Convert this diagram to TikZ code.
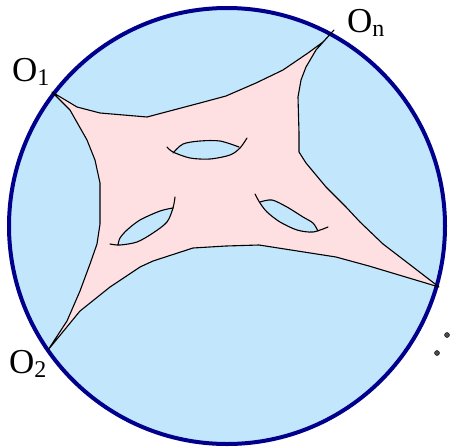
\documentclass[tikz,border=0pt]{standalone}
\usepackage{fontspec}
\setmainfont{Liberation Serif}
\usetikzlibrary{positioning}
\definecolor{diskblue}{RGB}{194,230,252}
\definecolor{rimblue}{RGB}{0,0,140}
\definecolor{sheetpink}{RGB}{255,224,226}
\newcommand{\rimlab}[1]{O\raisebox{-4.5pt}{\fontsize{24}{24}\selectfont #1}}

\begin{document}
\begin{tikzpicture}[
  x=1pt, y=-1pt,
  disk/.style={fill=diskblue, draw=rimblue, line width=4pt},
  sheet/.style={fill=sheetpink, draw=black, line width=1.1pt, line join=round},
  hole/.style={fill=diskblue},
  holeedge/.style={draw=black, line width=1.1pt, line cap=round},
  rimlabel/.style={inner sep=0pt, anchor=base west, font=\fontsize{35}{40}\selectfont},
  dotmark/.style={circle, fill=black!70, draw=black, inner sep=0pt, minimum size=5pt}
]
  \useasboundingbox (0,0) rectangle (452,447);
  \draw[disk] (227,226) circle (218pt);

  % ends of the sheet on the rim
  \coordinate (o1) at (52,92);
  \coordinate (on) at (334,30);
  \coordinate (or) at (439,287);
  \coordinate (o2) at (48,350);

  \draw[sheet] (o1) -- (77,107) -- (100,113) -- (147,117) -- (200,103) -- (226,96)
    -- (256,83) -- (283,70) -- (308,53) -- (323,42) -- (on)
    -- (316,50) -- (306,67) -- (301,80) -- (298,97) -- (299,133) -- (299,152)
    -- (306,163) -- (326,187) -- (346,207) -- (360,222) -- (383,244) -- (413,267) -- (or)
    -- (369,266) -- (336,257) -- (259,245) -- (226,246) -- (193,248) -- (153,261)
    -- (140,267) -- (110,287) -- (80,311) -- (o2)
    -- (67,321) -- (80,291) -- (90,264) -- (97,244) -- (100,224) -- (100,183)
    -- (95,160) -- (87,140) -- (70,110) -- cycle;

  % holes
  \fill[hole] plot[smooth] coordinates {(173,153) (183,144) (200,141) (220,141) (239,147)}
    -- plot[smooth] coordinates {(239,147) (230,155) (210,159) (190,158) (173,153)} -- cycle;
  \draw[holeedge] plot[smooth] coordinates {(173,153) (183,144) (200,141) (220,141) (239,147)};
  \draw[holeedge] plot[smooth] coordinates {(167,147) (173,152) (190,158) (210,159) (230,155) (240,148) (247,138)};

  \fill[hole] plot[smooth] coordinates {(173,208) (160,211) (140,220) (127,230) (120,238) (119,245)}
    -- plot[smooth] coordinates {(119,245) (137,242) (153,233) (167,222) (173,208)} -- cycle;
  \draw[holeedge] plot[smooth] coordinates {(173,208) (160,211) (140,220) (127,230) (120,238) (118,245)};
  \draw[holeedge] plot[smooth] coordinates {(110,244) (120,245) (137,242) (153,233) (167,222) (173,208) (175,197)};

  \fill[hole] plot[smooth] coordinates {(260,202) (272,200) (287,207) (303,217) (313,223) (318,231)}
    -- plot[smooth] coordinates {(318,231) (313,232) (297,230) (280,222) (267,212) (260,202)} -- cycle;
  \draw[holeedge] plot[smooth] coordinates {(260,202) (272,200) (287,207) (303,217) (313,223) (318,231)};
  \draw[holeedge] plot[smooth] coordinates {(255,194) (260,203) (267,212) (280,222) (297,230) (313,232) (328,227)};

  % labels
  \node[rimlabel] (lab1) at (12,81) {\rimlab{1}};
  \node[rimlabel] (labn) at (347,32) {\rimlab{n}};
  \node[rimlabel] (lab2) at (9,373) {\rimlab{2}};

  \node[dotmark] (dota) at (447,335) {};
  \node[dotmark] (dotb) at (437,353) {};
\end{tikzpicture}
\end{document}
